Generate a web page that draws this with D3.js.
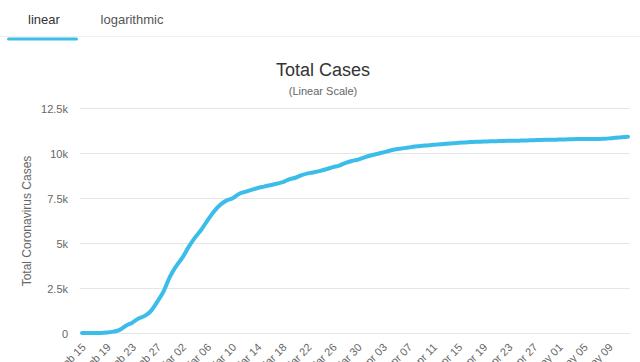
<!DOCTYPE html>
<html><head><meta charset="utf-8">
<script src="https://cdn.jsdelivr.net/npm/d3@7"></script>
<style>
html,body{margin:0;padding:0;background:#fff;}
svg{display:block;font-family:"Liberation Sans",Arial,sans-serif;}
</style></head>
<body>
<svg id="c" width="640" height="362"></svg>
<script>
const dates = [
 "Feb 15","Feb 16","Feb 17","Feb 18","Feb 19","Feb 20","Feb 21","Feb 22","Feb 23","Feb 24","Feb 25","Feb 26","Feb 27","Feb 28","Feb 29",
 "Mar 01","Mar 02","Mar 03","Mar 04","Mar 05","Mar 06","Mar 07","Mar 08","Mar 09","Mar 10","Mar 11","Mar 12","Mar 13","Mar 14","Mar 15","Mar 16",
 "Mar 17","Mar 18","Mar 19","Mar 20","Mar 21","Mar 22","Mar 23","Mar 24","Mar 25","Mar 26","Mar 27","Mar 28","Mar 29","Mar 30","Mar 31",
 "Apr 01","Apr 02","Apr 03","Apr 04","Apr 05","Apr 06","Apr 07","Apr 08","Apr 09","Apr 10","Apr 11","Apr 12","Apr 13","Apr 14","Apr 15",
 "Apr 16","Apr 17","Apr 18","Apr 19","Apr 20","Apr 21","Apr 22","Apr 23","Apr 24","Apr 25","Apr 26","Apr 27","Apr 28","Apr 29","Apr 30",
 "May 01","May 02","May 03","May 04","May 05","May 06","May 07","May 08","May 09","May 10","May 11","May 12"
];
const totalCases = [
 28,29,30,31,51,104,204,433,602,833,977,1261,1766,2337,3150,
 3736,4212,4812,5328,5766,6284,6767,7134,7382,7513,7755,7869,7979,8086,8162,8236,
 8320,8413,8565,8652,8799,8897,8961,9037,9137,9241,9332,9478,9583,9661,9786,
 9887,9976,10062,10156,10237,10284,10331,10384,10423,10450,10480,10512,10537,10564,10591,
 10613,10635,10653,10661,10674,10683,10694,10702,10708,10718,10728,10738,10752,10761,10765,
 10774,10780,10793,10801,10804,10806,10810,10822,10840,10874,10909,10936
];
const yTicks = [0,2500,5000,7500,10000,12500];
const yTickLabels = ["0","2.5k","5k","7.5k","10k","12.5k"];
const xTickLabels = ["Feb 15","Feb 19","Feb 23","Feb 27","Mar 02","Mar 06","Mar 10","Mar 14","Mar 18","Mar 22","Mar 26","Mar 30",
 "Apr 03","Apr 07","Apr 11","Apr 15","Apr 19","Apr 23","Apr 27","May 01","May 05","May 09"];
const tabs = ["linear","logarithmic"];

const svg = d3.select("#c");

// tabs
svg.append("line").attr("x1",0).attr("x2",640).attr("y1",36.5).attr("y2",36.5).attr("stroke","#f0f0f0");
svg.append("text").attr("x",44).attr("y",24).attr("text-anchor","middle").attr("font-size",13).attr("fill","#333").text(tabs[0]);
svg.append("text").attr("x",132).attr("y",24).attr("text-anchor","middle").attr("font-size",13).attr("fill","#555").text(tabs[1]);
svg.append("rect").attr("x",7).attr("y",37.5).attr("width",71).attr("height",3).attr("rx",1.5).attr("fill","#3dbfe3");

// titles
svg.append("text").attr("x",323).attr("y",75.5).attr("text-anchor","middle").attr("font-size",18).attr("fill","#333").text("Total Cases");
svg.append("text").attr("x",323).attr("y",95).attr("text-anchor","middle").attr("font-size",11).attr("fill","#666").text("(Linear Scale)");

const x = d3.scalePoint().domain(dates).range([82,628]);
const y = d3.scaleLinear().domain([0,12500]).range([333.5,108.5]);

// grid
const grid = svg.append("g");
grid.selectAll("line").data(yTicks).join("line")
  .attr("x1",80).attr("x2",630)
  .attr("y1",d=>y(d)).attr("y2",d=>y(d))
  .attr("stroke","#e6e6e6").attr("stroke-width",1);

// y axis
const yAxis = d3.axisLeft(y).tickValues(yTicks).tickSize(0).tickPadding(0)
  .tickFormat((d,i)=>yTickLabels[i]);
const gy = svg.append("g").attr("transform","translate(68,0)").call(yAxis);
gy.select(".domain").remove();
gy.selectAll("text").attr("font-size",11).attr("fill","#666").attr("font-family","Liberation Sans, Arial, sans-serif").attr("dy","0.35em");

svg.append("text").attr("transform","translate(31,221) rotate(-90)").attr("text-anchor","middle")
  .attr("font-size",12).attr("fill","#666").text("Total Coronavirus Cases");

// x axis
const xAxis = d3.axisBottom(x).tickValues(xTickLabels).tickSize(0).tickPadding(0);
const gx = svg.append("g").attr("transform","translate(0,340)").call(xAxis);
gx.select(".domain").remove();
gx.selectAll("text").attr("font-size",11).attr("fill","#666").attr("font-family","Liberation Sans, Arial, sans-serif")
  .attr("text-anchor","end").attr("dy",0).attr("y",0)
  .attr("transform","translate(4,8) rotate(-45)");

// line
const line = d3.line().x((d,i)=>x(dates[i])).y(d=>y(d)).curve(d3.curveMonotoneX);
svg.append("path").datum(totalCases).attr("d",line).attr("fill","none")
  .attr("stroke","#3bbde9").attr("stroke-width",4).attr("stroke-linejoin","round").attr("stroke-linecap","round");
</script>
</body></html>
